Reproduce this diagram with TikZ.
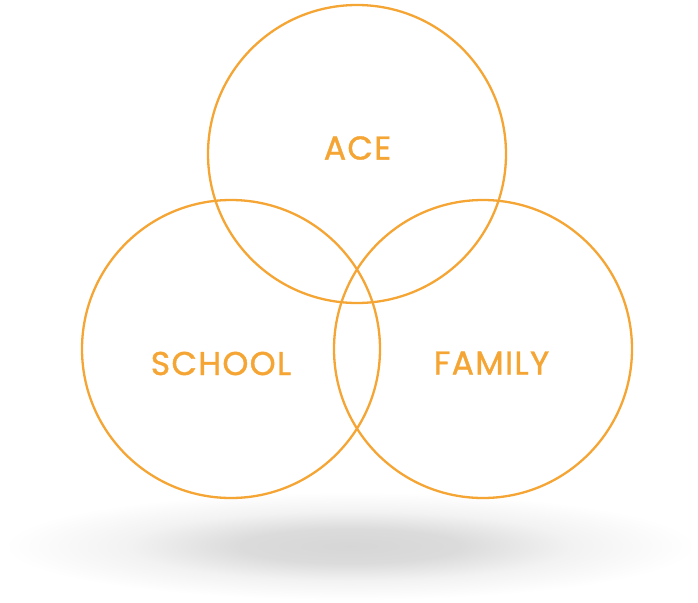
\documentclass[tikz,border=0pt]{standalone}
\usepackage{fontspec}
\setmainfont{Poppins}[LetterSpace=4, FakeBold=1.2]
\definecolor{vennorange}{RGB}{245,165,52}
\pgfdeclareradialshading{floorshadow}{\pgfpoint{0bp}{0bp}}{color(0bp)=(black!16); color(8bp)=(black!14); color(16bp)=(black!5); color(25bp)=(white); color(50bp)=(white)}
\tikzset{every picture/.append style={x=1pt,y=-1pt}}
\tikzset{
  ring/.style={draw=vennorange, line width=2.3pt},
  setname/.style={text=vennorange, font=\fontsize{33}{35}\selectfont}
}

\begin{document}
\begin{tikzpicture}
  \useasboundingbox (0,0) rectangle (698,602);
  \shade[shading=floorshadow] (350,546) ellipse (346pt and 54pt);
  \draw[ring] (357,154) circle(149pt);
  \draw[ring] (231,349) circle(149pt);
  \draw[ring] (483,349) circle(149pt);
  \node[setname] (ace) at(357.5,148){ACE};
  \node[setname] (school) at(221,363.5){SCHOOL};
  \node[setname] (family) at(491.5,363){FAMILY};
\end{tikzpicture}
\end{document}
